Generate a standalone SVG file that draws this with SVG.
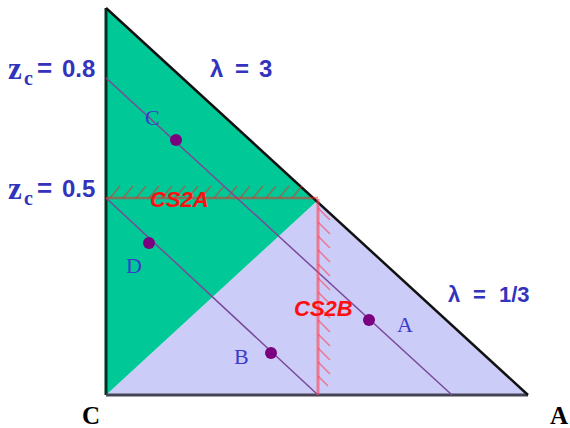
<svg xmlns="http://www.w3.org/2000/svg" width="570" height="428" viewBox="0 0 570 428">
<style>
.lbl{font-family:"Liberation Sans",Arial,sans-serif;font-weight:bold;fill:#3333bb}
.zs{font-family:"Liberation Serif","Times New Roman",serif;font-weight:bold;fill:#3333bb}
.pt{font-family:"Liberation Serif","Times New Roman",serif;font-size:22px;fill:#3a3acc}
.cs{font-family:"Liberation Sans",Arial,sans-serif;font-weight:bold;font-style:italic;font-size:22px;fill:#ff1010}
.tie{stroke:#7a4a9a;stroke-width:1.5;fill:none}
.dot{fill:#7a0080}
.corner{font-family:"Liberation Serif","Times New Roman",serif;font-weight:bold;font-size:25px;fill:#000}
</style>
<rect width="570" height="428" fill="#fff"/>
<g id="regions">
<polygon points="106,395 317,201 528,395" fill="#ccccf8"/>
<polygon points="106,8 317,201 106,395" fill="#00c896"/>
</g>
<g id="edges">
<line x1="106" y1="8" x2="106" y2="395" stroke="#003322" stroke-width="3"/>
<line x1="106" y1="395" x2="528" y2="395" stroke="#444455" stroke-width="3"/>
<line x1="106" y1="8" x2="528" y2="395" stroke="#111" stroke-width="2.5"/>
</g>
<g id="connectors">
<line class="tie" x1="106" y1="78" x2="452" y2="395"/>
<line class="tie" x1="106" y1="198" x2="318" y2="395"/>
</g>
<g id="cs2a-boundary" stroke="#ff2020" stroke-opacity="0.5">
<line x1="106" y1="198" x2="318" y2="198" stroke-width="2.5"/>
<path d="M110,198 l10,-12 M123,198 l10,-12 M136,198 l10,-12 M149,198 l10,-12 M162,198 l10,-12 M175,198 l10,-12 M188,198 l10,-12 M201,198 l10,-12 M214,198 l10,-12 M227,198 l10,-12 M240,198 l10,-12 M253,198 l10,-12 M266,198 l10,-12 M279,198 l10,-12 M292,198 l10,-12" stroke-width="1.5"/>
</g>
<g id="cs2b-boundary" stroke="#ff4050" stroke-opacity="0.6">
<line x1="318" y1="199" x2="318" y2="395" stroke-width="3"/>
<path d="M318,208 l12,12 M318,222 l12,12 M318,236 l12,12 M318,250 l12,12 M318,264 l12,12 M318,278 l12,12 M318,292 l12,12 M318,306 l12,12 M318,320 l12,12 M318,334 l12,12 M318,348 l12,12 M318,362 l12,12 M318,376 l10,10" stroke-width="1.5"/>
</g>
<g id="point-C"><circle class="dot" cx="176" cy="140" r="6"/><text class="pt" x="145" y="125">C</text></g>
<g id="point-D"><circle class="dot" cx="149" cy="243" r="6"/><text class="pt" x="126" y="273">D</text></g>
<g id="point-B"><circle class="dot" cx="271" cy="353" r="6"/><text class="pt" x="234" y="364">B</text></g>
<g id="point-A"><circle class="dot" cx="369" cy="320" r="6"/><text class="pt" x="397" y="332">A</text></g>
<g id="labels">
<text class="zs" x="8" y="79" font-size="31">z</text><text class="zs" x="24" y="85" font-size="20">c</text>
<text class="lbl" x="37" y="77" font-size="26">=</text><text class="lbl" x="62" y="77" font-size="24">0.8</text>
<text class="zs" x="8" y="199" font-size="31">z</text><text class="zs" x="24" y="205" font-size="20">c</text>
<text class="lbl" x="37" y="197" font-size="26">=</text><text class="lbl" x="62" y="197" font-size="24">0.5</text>
<text class="lbl" font-size="24" y="77"><tspan x="210">λ</tspan><tspan x="235">=</tspan><tspan x="259">3</tspan></text>
<text class="lbl" font-size="22" y="302"><tspan x="448">λ</tspan><tspan x="473">=</tspan><tspan x="499">1/3</tspan></text>
<text class="cs" x="150" y="207">CS2A</text>
<text class="cs" x="294" y="316">CS2B</text>
<text class="corner" x="82" y="424">C</text>
<text class="corner" x="550" y="424">A</text>
</g>
</svg>
